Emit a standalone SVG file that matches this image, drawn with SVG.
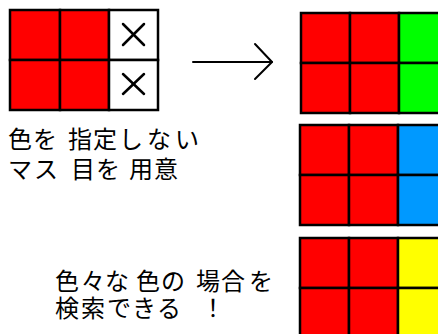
<svg xmlns="http://www.w3.org/2000/svg" width="438" height="334" viewBox="0 0 438 334">
<style>
.c{stroke:#000;stroke-width:2.5}
.r{fill:#ff0000}
.w{fill:#ffffff}
.g{fill:#00ff00}
.b{fill:#0099ff}
.y{fill:#ffff00}
.t{font-family:"Noto Sans CJK JP","Noto Sans",sans-serif;font-size:24px;fill:#000}
.x{stroke:#000;stroke-width:2.5;stroke-linecap:round}
.a{fill:none;stroke:#000;stroke-width:2;stroke-linecap:round;stroke-linejoin:round}
</style>
<rect width="438" height="334" fill="#fff"/>
<g id="grid-input">
<rect class="r c" x="10" y="10" width="50" height="50"/>
<rect class="r c" x="60" y="10" width="49" height="50"/>
<rect class="w c" x="109" y="10" width="49" height="50"/>
<rect class="r c" x="10" y="60" width="50" height="50"/>
<rect class="r c" x="60" y="60" width="49" height="50"/>
<rect class="w c" x="109" y="60" width="49" height="50"/>
<line class="x" x1="123" y1="24" x2="144" y2="45"/>
<line class="x" x1="144" y1="24" x2="123" y2="45"/>
<line class="x" x1="123" y1="74" x2="144" y2="94"/>
<line class="x" x1="144" y1="74" x2="123" y2="94"/>
</g>
<g id="label-left">
<text class="t"><tspan x="8 33 68 93 119 147 175" y="148">色を指定しない</tspan><tspan x="8 34 71 96 129 154" y="178">マス目を用意</tspan></text>
</g>
<g id="connectors">
<line class="a" x1="193" y1="62" x2="272" y2="62"/>
<polyline class="a" points="255,44 272,62 255,79"/>
</g>
<g id="grid-green">
<rect class="r c" x="301" y="13" width="49" height="50"/>
<rect class="r c" x="350" y="13" width="49" height="50"/>
<rect class="g c" x="399" y="13" width="49" height="50"/>
<rect class="r c" x="301" y="63" width="49" height="50"/>
<rect class="r c" x="350" y="63" width="49" height="50"/>
<rect class="g c" x="399" y="63" width="49" height="50"/>
</g>
<g id="grid-blue">
<rect class="r c" x="300" y="125" width="49" height="50"/>
<rect class="r c" x="349" y="125" width="49" height="50"/>
<rect class="b c" x="398" y="125" width="49" height="50"/>
<rect class="r c" x="300" y="175" width="49" height="50"/>
<rect class="r c" x="349" y="175" width="49" height="50"/>
<rect class="b c" x="398" y="175" width="49" height="50"/>
</g>
<g id="grid-yellow">
<rect class="r c" x="300" y="238" width="49" height="50"/>
<rect class="r c" x="349" y="238" width="49" height="50"/>
<rect class="y c" x="398" y="238" width="49" height="50"/>
<rect class="r c" x="300" y="288" width="49" height="50"/>
<rect class="r c" x="349" y="288" width="49" height="50"/>
<rect class="y c" x="398" y="288" width="49" height="50"/>
</g>
<g id="label-bottom">
<text class="t"><tspan x="55 81 105 136 161 196 221 249" y="290">色々な色の場合を</tspan><tspan x="55 81 107 132 157 201" y="317">検索できる！</tspan></text>
</g>
</svg>
